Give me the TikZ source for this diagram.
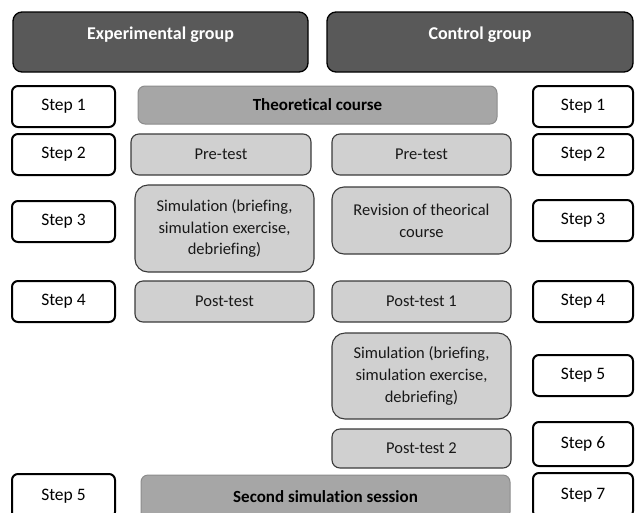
\documentclass[tikz,border=0pt]{standalone}
\usepackage{fontspec}
\setmainfont{Carlito}[Ligatures=NoCommon]
\definecolor{hdr}{HTML}{595959}
\definecolor{lite}{HTML}{D0D0D0}
\definecolor{mid}{HTML}{A6A6A6}
\definecolor{edge}{HTML}{3A3A3A}
\begin{document}
\begin{tikzpicture}[x=1pt,y=-1pt,
  base/.style={anchor=north west,inner sep=0pt,outer sep=0pt,align=center},
  stepbox/.style={base,draw=black,line width=2pt,fill=white,rounded corners=6pt,
    minimum width=103pt,minimum height=41pt,font=\fontsize{17.5}{20}\selectfont},
  hdrbox/.style={base,draw=black,line width=1.3pt,fill=hdr,rounded corners=9pt,minimum height=60pt},
  hdrtext/.style={inner sep=0pt,text=white,font=\bfseries\fontsize{18}{21}\selectfont},
  litebox/.style={base,draw=edge,line width=1.1pt,fill=lite,rounded corners=8pt,
    minimum width=179pt,minimum height=41pt,font=\fontsize{16.5}{21.7}\selectfont,text=black!90},
  midbox/.style={base,draw=black!45,line width=1pt,fill=mid,rounded corners=7pt,
    minimum height=38pt,font=\bfseries\fontsize{17}{20}\selectfont}]
\useasboundingbox (0,0) rectangle (636,512);
% headers
\node[hdrbox,minimum width=295pt] (hexp) at (13,12) {};
\node[hdrtext] (hexpT) at ([yshift=7pt]hexp.center) {Experimental group};
\node[hdrbox,minimum width=306pt] (hctl) at (327,12) {};
\node[hdrtext] (hctlT) at ([yshift=7pt]hctl.center) {Control group};
% left steps
\node[stepbox] (sL1) at (12,86) {Step 1};
\node[stepbox] (sL2) at (12,134) {Step 2};
\node[stepbox] (sL3) at (12,201) {Step 3};
\node[stepbox] (sL4) at (12,281) {Step 4};
\node[stepbox,minimum height=44pt] (sL5) at (12,474) {Step 5};
% right steps
\node[stepbox,minimum width=100pt] (sR1) at (533,86) {Step 1};
\node[stepbox,minimum width=100pt] (sR2) at (533,134) {Step 2};
\node[stepbox,minimum width=100pt] (sR3) at (533,200) {Step 3};
\node[stepbox,minimum width=100pt] (sR4) at (533,281) {Step 4};
\node[stepbox,minimum width=100pt] (sR5) at (533,355) {Step 5};
\node[stepbox,minimum width=100pt,minimum height=44pt] (sR6) at (533,422) {Step 6};
\node[stepbox,minimum width=100pt,minimum height=44pt] (sR7) at (533,473) {Step 7};
% content
\node[midbox,minimum width=359pt] (theo) at (138,86) {Theoretical course};
\node[litebox,minimum width=180pt] (preL) at (131,134) {Pre-test};
\node[litebox] (preR) at (332,134) {Pre-test};
\node[litebox,minimum height=87pt,rounded corners=13pt] (simL) at (135,185)
  {Simulation (briefing,\\simulation exercise,\\debriefing)};
\node[litebox,minimum height=67pt,rounded corners=12pt] (rev) at (332,187)
  {Revision of theorical\\course};
\node[litebox] (postL) at (135,281) {Post-test};
\node[litebox] (post1) at (332,281) {Post-test 1};
\node[litebox,minimum height=86pt,rounded corners=13pt] (simR) at (332,333)
  {Simulation (briefing,\\simulation exercise,\\debriefing)};
\node[litebox,minimum height=39pt] (post2) at (332,429) {Post-test 2};
\node[midbox,minimum width=369pt,minimum height=44pt] (second) at (141,475) {Second simulation session};
\end{tikzpicture}
\end{document}
